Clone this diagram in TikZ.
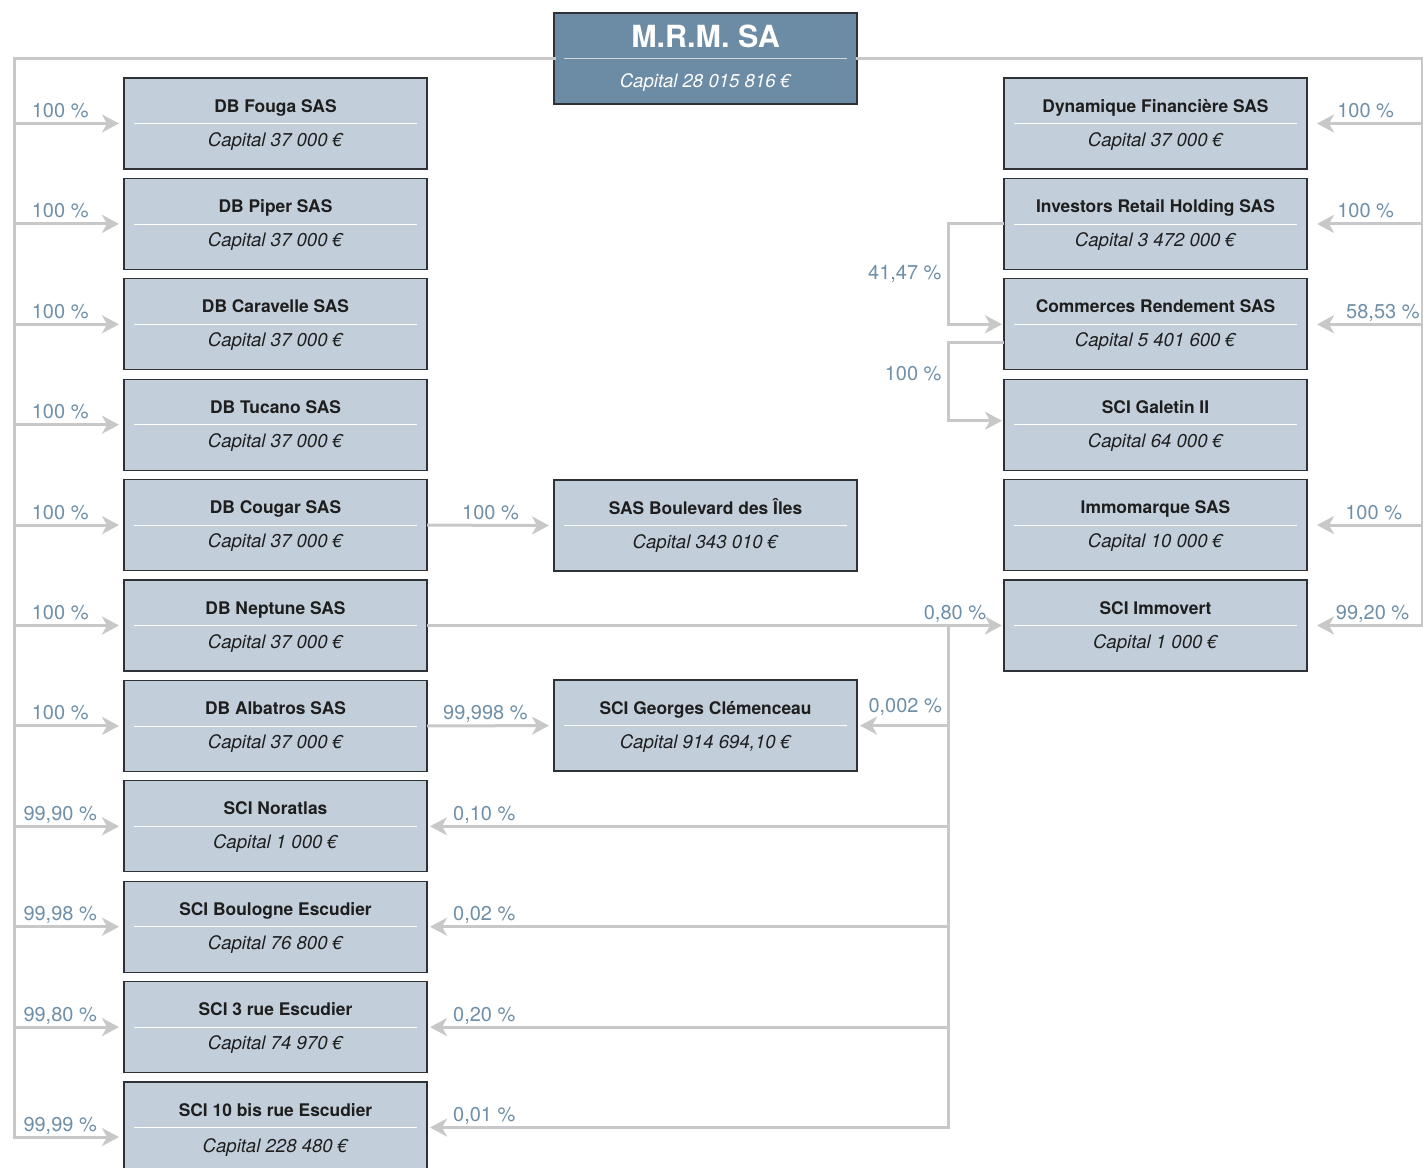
\documentclass[tikz,border=0pt]{standalone}
\usepackage{fontspec}
\setmainfont{TeX Gyre Heros}
\usetikzlibrary{positioning, arrows.meta}

\definecolor{boxfill}{HTML}{C2CFDB}
\definecolor{boxline}{HTML}{2E3136}
\definecolor{topfill}{HTML}{6C8CA5}
\definecolor{topsep}{HTML}{D4D8DC}
\definecolor{linkgray}{HTML}{C8C8C8}
\definecolor{pctblue}{HTML}{6F8FA8}
\definecolor{namecol}{HTML}{1E1E1E}

\begin{document}
\begin{tikzpicture}[x=1pt, y=-1pt, node distance=9.4pt,
	firm/.style = {draw=boxline, fill=boxfill, line width=1.3pt, minimum width=303pt, minimum height=91pt, inner sep=0pt, outer sep=0pt,
		path picture={\draw[white, line width=0.8pt] ([xshift=10pt]path picture bounding box.west) -- ([xshift=-10pt]path picture bounding box.east);}},
	head/.style = {firm, fill=topfill,
		path picture={\draw[topsep, line width=1pt] ([xshift=10pt]path picture bounding box.west) -- ([xshift=-10pt]path picture bounding box.east);}},
	fname/.style = {anchor=base, yshift=-34pt, inner sep=0pt, text=namecol, font=\bfseries\fontsize{17.4pt}{20pt}\selectfont},
	fcap/.style = {anchor=base, yshift=-68pt, inner sep=0pt, text=namecol, font=\itshape\fontsize{18.6pt}{21pt}\selectfont},
	hname/.style = {anchor=base, yshift=-34pt, inner sep=0pt, text=white, font=\bfseries\fontsize{30.5pt}{34pt}\selectfont},
	hcap/.style = {anchor=base, yshift=-74pt, inner sep=0pt, text=white, font=\itshape\fontsize{18.6pt}{21pt}\selectfont},
	trunk/.style = {draw=linkgray, line width=3pt, line cap=rect},
	link/.style = {draw=linkgray, line width=3pt, -{Stealth[length=17pt, width=18pt, inset=5pt]}, shorten >=5pt},
	pct/.style = {anchor=base, yshift=6pt, inner sep=0pt, text=pctblue, font=\fontsize{20pt}{22pt}\selectfont},
	pctl/.style = {anchor=east, xshift=-5pt, inner sep=0pt, text=pctblue, font=\fontsize{20pt}{22pt}\selectfont}]
	\useasboundingbox (0,0) rectangle (1423,1167);

	% holding
	\node[head, label={[hname, name=mrm-n]north:M.R.M. SA}, label={[hcap, name=mrm-c]north:{Capital 28 015 816 €}}] (mrm) at (705.5,58.5) {};

	% left column
	\node[firm, label={[fname, name=fouga-n]north:DB Fouga SAS}, label={[fcap, name=fouga-c]north:{Capital 37 000 €}}] (fouga) at (275.5,123.5) {};
	\node[firm, label={[fname, name=piper-n]north:DB Piper SAS}, label={[fcap, name=piper-c]north:{Capital 37 000 €}}] (piper) [below=of fouga] {};
	\node[firm, label={[fname, name=caravelle-n]north:DB Caravelle SAS}, label={[fcap, name=caravelle-c]north:{Capital 37 000 €}}] (caravelle) [below=of piper] {};
	\node[firm, label={[fname, name=tucano-n]north:DB Tucano SAS}, label={[fcap, name=tucano-c]north:{Capital 37 000 €}}] (tucano) [below=of caravelle] {};
	\node[firm, label={[fname, name=cougar-n]north:DB Cougar SAS}, label={[fcap, name=cougar-c]north:{Capital 37 000 €}}] (cougar) [below=of tucano] {};
	\node[firm, label={[fname, name=neptune-n]north:DB Neptune SAS}, label={[fcap, name=neptune-c]north:{Capital 37 000 €}}] (neptune) [below=of cougar] {};
	\node[firm, label={[fname, name=albatros-n]north:DB Albatros SAS}, label={[fcap, name=albatros-c]north:{Capital 37 000 €}}] (albatros) [below=of neptune] {};
	\node[firm, label={[fname, name=noratlas-n]north:SCI Noratlas}, label={[fcap, name=noratlas-c]north:{Capital 1 000 €}}] (noratlas) [below=of albatros] {};
	\node[firm, label={[fname, name=boulogne-n]north:SCI Boulogne Escudier}, label={[fcap, name=boulogne-c]north:{Capital 76 800 €}}] (boulogne) [below=of noratlas] {};
	\node[firm, label={[fname, name=escudier-n]north:SCI 3 rue Escudier}, label={[fcap, name=escudier-c]north:{Capital 74 970 €}}] (escudier) [below=of boulogne] {};
	\node[firm, label={[fname, name=bisrue-n]north:SCI 10 bis rue Escudier}, label={[fcap, name=bisrue-c, yshift=-2pt]north:{Capital 228 480 €}}] (bisrue) [below=of escudier] {};

	% middle column
	\node[firm, label={[fname, name=boulevard-n]north:SAS Boulevard des Îles}, label={[fcap, name=boulevard-c]north:{Capital 343 010 €}}] (boulevard) at (705.5,525.5) {};
	\node[firm, label={[fname, name=georges-n]north:SCI Georges Clémenceau}, label={[fcap, name=georges-c]north:{Capital 914 694,10 €}}] (georges) at (705.5,725.6) {};

	% right column
	\node[firm, label={[fname, name=dynamique-n]north:Dynamique Financière SAS}, label={[fcap, name=dynamique-c]north:{Capital 37 000 €}}] (dynamique) at (1155.5,123.5) {};
	\node[firm, label={[fname, name=investors-n]north:Investors Retail Holding SAS}, label={[fcap, name=investors-c]north:{Capital 3 472 000 €}}] (investors) [below=of dynamique] {};
	\node[firm, label={[fname, name=commerces-n]north:Commerces Rendement SAS}, label={[fcap, name=commerces-c]north:{Capital 5 401 600 €}}] (commerces) [below=of investors] {};
	\node[firm, label={[fname, name=galetin-n]north:SCI Galetin II}, label={[fcap, name=galetin-c]north:{Capital 64 000 €}}] (galetin) [below=of commerces] {};
	\node[firm, label={[fname, name=immomarque-n]north:Immomarque SAS}, label={[fcap, name=immomarque-c]north:{Capital 10 000 €}}] (immomarque) [below=of galetin] {};
	\node[firm, label={[fname, name=immovert-n]north:SCI Immovert}, label={[fcap, name=immovert-c]north:{Capital 1 000 €}}] (immovert) [below=of immomarque] {};

	\coordinate (trunkL) at (14,58.5);
	\coordinate (trunkR) at (1422,58.5);
	\coordinate (bend) at (948,626);
	\coordinate (bisin) at ([yshift=-9.5pt]bisrue.west);
	\coordinate (crsout) at ([yshift=-18.5pt]commerces.west);
	\coordinate (galin) at ([yshift=4pt]galetin.west);

	% holding to the left
	\draw[trunk] (mrm.west) -- (trunkL) -- (trunkL |- bisin);
	\draw[link] (fouga.west -| trunkL) -- node[pct, pos=.42] (fouga-p) {100 \%} (fouga.west);
	\draw[link] (piper.west -| trunkL) -- node[pct, pos=.42] (piper-p) {100 \%} (piper.west);
	\draw[link] (caravelle.west -| trunkL) -- node[pct, pos=.42] (caravelle-p) {100 \%} (caravelle.west);
	\draw[link] (tucano.west -| trunkL) -- node[pct, pos=.42] (tucano-p) {100 \%} (tucano.west);
	\draw[link] (cougar.west -| trunkL) -- node[pct, pos=.42] (cougar-p) {100 \%} (cougar.west);
	\draw[link] (neptune.west -| trunkL) -- node[pct, pos=.42] (neptune-p) {100 \%} (neptune.west);
	\draw[link] (albatros.west -| trunkL) -- node[pct, pos=.42] (albatros-p) {100 \%} (albatros.west);
	\draw[link] (noratlas.west -| trunkL) -- node[pct, pos=.42] (noratlas-p) {99,90 \%} (noratlas.west);
	\draw[link] (boulogne.west -| trunkL) -- node[pct, pos=.42] (boulogne-p) {99,98 \%} (boulogne.west);
	\draw[link] (escudier.west -| trunkL) -- node[pct, pos=.42] (escudier-p) {99,80 \%} (escudier.west);
	\draw[link] (bisin -| trunkL) -- node[pct, pos=.42] (bisrue-p) {99,99 \%} (bisin);

	% holding to the right
	\draw[trunk] (mrm.east) -- (trunkR) -- (trunkR |- immovert.east);
	\draw[link, shorten >=10pt] (dynamique.east -| trunkR) -- node[pct, pos=.49] (dynamique-p) {100 \%} (dynamique.east);
	\draw[link, shorten >=10pt] (investors.east -| trunkR) -- node[pct, pos=.49] (investors-p) {100 \%} (investors.east);
	\draw[link, shorten >=10pt] (commerces.east -| trunkR) -- node[pct, pos=.34] (commerces-p) {58,53 \%} (commerces.east);
	\draw[link, shorten >=10pt] (immomarque.east -| trunkR) -- node[pct, pos=.42] (immomarque-p) {100 \%} (immomarque.east);
	\draw[link, shorten >=10pt] (immovert.east -| trunkR) -- node[pct, pos=.43] (immovert-p) {99,20 \%} (immovert.east);

	% subsidiaries
	\draw[link, shorten >=2pt] (investors.west) -- (investors.west -| bend) -- node[pctl] (commerces-q) {41,47 \%} (commerces.west -| bend) -- (commerces.west);
	\draw[link, shorten >=2pt] (crsout) -- (crsout -| bend) -- node[pctl, pos=.4] (galetin-q) {100 \%} (galin -| bend) -- (galin);
	\draw[link] (cougar.east) -- node[pct] (boulevard-q) {100 \%} (boulevard.west);
	\draw[link] (albatros.east) -- node[pct, pos=.46] (georges-q) {99,998 \%} (georges.west);
	\draw[link, shorten >=2pt] (neptune.east) -- node[pct, pos=.915] (immovert-q) {0,80 \%} (immovert.west);
	\draw[trunk] (bend) -- (bend |- bisrue.east);
	\draw[link, shorten >=3pt] (bend |- georges.east) -- node[pct, pos=.47, yshift=7pt] (georges-r) {0,002 \%} (georges.east);
	\draw[link, shorten >=3pt] (bend |- noratlas.east) -- node[pct, pos=.89] (noratlas-q) {0,10 \%} (noratlas.east);
	\draw[link, shorten >=3pt] (bend |- boulogne.east) -- node[pct, pos=.89] (boulogne-q) {0,02 \%} (boulogne.east);
	\draw[link, shorten >=3pt] (bend |- escudier.east) -- node[pct, pos=.89] (escudier-q) {0,20 \%} (escudier.east);
	\draw[link, shorten >=3pt] (bend |- bisrue.east) -- node[pct, pos=.89] (bisrue-q) {0,01 \%} (bisrue.east);
\end{tikzpicture}
\end{document}
